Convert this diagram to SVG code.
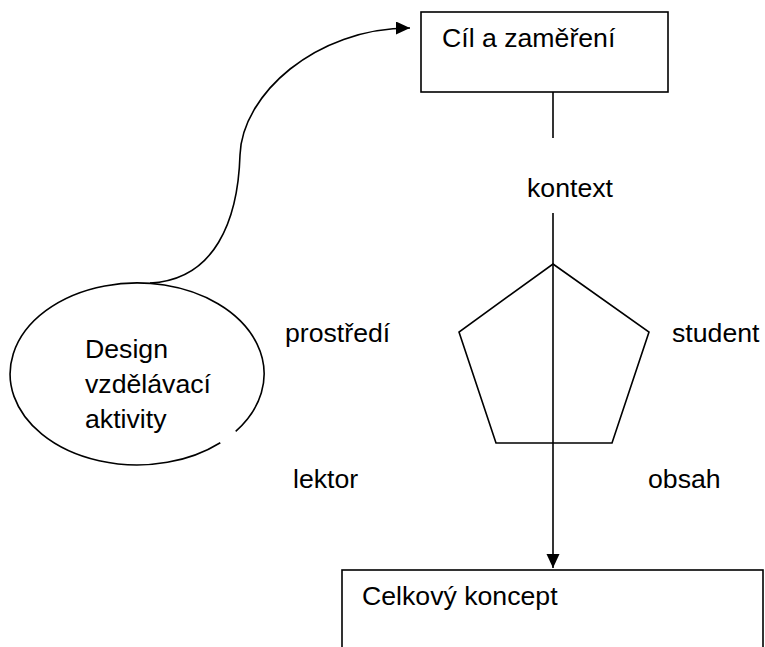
<svg xmlns="http://www.w3.org/2000/svg" width="765" height="647" viewBox="0 0 765 647">
<style>
text{font-family:"Liberation Sans",Arial,sans-serif;font-size:26.67px;fill:#000}
.s{fill:none;stroke:#000;stroke-width:1.6}
.b{fill:#fff;stroke:#000;stroke-width:1.6}
</style>
<defs>
<marker id="ah" markerUnits="userSpaceOnUse" markerWidth="16" markerHeight="14" refX="14" refY="6.5" orient="auto">
<path d="M0,0 L14,6.5 L0,13 Z" fill="#000"/>
</marker>
</defs>
<rect width="765" height="647" fill="#fff"/>
<g id="cil">
<rect class="b" x="421" y="12" width="247" height="80"/>
<text x="442" y="47">Cíl a zaměření</text>
</g>
<g id="design">
<path class="s" d="M235.7 431.3 A127 91 0 1 0 220.3 442.7"/>
<text x="85" y="358">Design</text>
<text x="85" y="393">vzdělávací</text>
<text x="85" y="428">aktivity</text>
</g>
<g id="pentagon">
<polygon class="s" points="553,264 649,332 612,443 496,443 459,332"/>
</g>
<g id="celkovy">
<rect class="b" x="342" y="570" width="421" height="100"/>
<text x="362" y="605">Celkový koncept</text>
</g>
<g id="labels">
<text x="527" y="197">kontext</text>
<text x="285" y="342">prostředí</text>
<text x="672" y="342">student</text>
<text x="293" y="488">lektor</text>
<text x="648" y="488">obsah</text>
</g>
<g id="connectors">
<path class="s" d="M150 283 C215 280 238 220 240 155 C242 95 315 28 410 28" marker-end="url(#ah)"/>
<line class="s" x1="553" y1="92" x2="553" y2="138"/>
<line class="s" x1="553" y1="213" x2="553" y2="568" marker-end="url(#ah)"/>
</g>
</svg>
